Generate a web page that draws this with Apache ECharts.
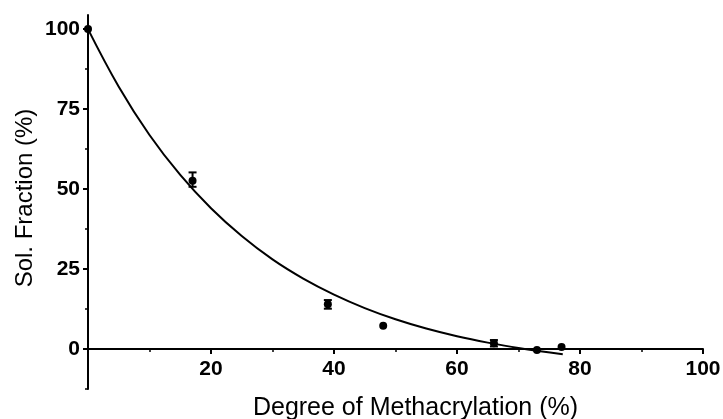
<!DOCTYPE html>
<html>
<head>
  <meta charset="utf-8">
  <title>Sol. Fraction vs Degree of Methacrylation</title>
  <style>
    html, body { margin: 0; padding: 0; background: #fff; }
    #main { width: 723px; height: 419px; }
  </style>
</head>
<body>
  <div id="main"></div>
  <script src="https://cdn.jsdelivr.net/npm/echarts@6.0.0/dist/echarts.min.js"></script>
  <script>
    // measured points (degree of methacrylation %, sol fraction %)
    const pointX = [0, 17, 39, 48, 66, 73, 77];
    const pointY = [100, 52.6, 14.0, 7.3, 1.8, -0.3, 0.6];
    // error bars: x, low, high
    const errX = [17, 39, 66];
    const errLow = [50.7, 12.6, 0.8];
    const errHigh = [55.2, 15.3, 2.8];
    // fitted curve
    const curveX = [0, 5, 10, 15, 20, 25, 30, 35, 40, 45, 50, 55, 60, 65, 70, 77.2];
    const curveY = [100, 82, 66.9, 54.4, 44, 35.3, 28, 22, 17, 12.8, 9.3, 6.4, 4, 2, 0.3, -1.65];
    const yLabels = [0, 25, 50, 75, 100];
    const xLabels = [20, 40, 60, 80, 100];

    const font = '"Liberation Sans", Arial, sans-serif';
    const axisColor = '#000';
    // x axis sits on y = 0, which is 12.5 units (40px) above the grid bottom
    const xOffset = -40;

    const option = {
      animation: false,
      grid: { left: 88, right: 20, top: 15, bottom: 30, outerBoundsMode: 'none', containLabel: false },
      xAxis: [
        {
          type: 'value', min: 0, max: 100, interval: 10, position: 'bottom', offset: xOffset,
          axisLine: { onZero: false, lineStyle: { color: axisColor, width: 2 } },
          axisTick: { length: 5, lineStyle: { color: axisColor, width: 2 }, customValues: [0, 20, 40, 60, 80, 100] },
          axisLabel: { customValues: xLabels, color: '#000', fontFamily: font, fontWeight: 'bold', fontSize: 21, margin: 10 },
          splitLine: { show: false },
          name: 'Degree of Methacrylation (%)', nameLocation: 'middle', nameGap: 47,
          nameTextStyle: { color: '#000', fontFamily: font, fontSize: 25, padding: [0, 0, 0, 40] }
        },
        {
          type: 'value', min: 0, max: 100, interval: 10, position: 'bottom', offset: xOffset,
          axisLine: { show: false, onZero: false },
          axisTick: { length: 3, lineStyle: { color: axisColor, width: 1.5 }, customValues: [10, 30, 50, 70, 90] },
          axisLabel: { show: false },
          splitLine: { show: false }
        }
      ],
      yAxis: [
        {
          type: 'value', min: -12.5, max: 104.4, interval: 12.5, position: 'left',
          axisLine: { onZero: false, lineStyle: { color: axisColor, width: 2 } },
          axisTick: { length: 5, lineStyle: { color: axisColor, width: 2 }, customValues: yLabels },
          axisLabel: { customValues: yLabels, color: '#000', fontFamily: font, fontWeight: 'bold', fontSize: 21, margin: 8 },
          splitLine: { show: false },
          name: 'Sol. Fraction (%)', nameLocation: 'middle', nameGap: 51, nameRotate: 90,
          nameMoveOverlap: false,
          nameTextStyle: { color: '#000', fontFamily: font, fontSize: 24, padding: [0, 0, 0, 8] }
        },
        {
          type: 'value', min: -12.5, max: 104.4, interval: 12.5, position: 'left',
          axisLine: { show: false, onZero: false },
          axisTick: { length: 3, lineStyle: { color: axisColor, width: 1.5 }, customValues: [-12.5, 12.5, 37.5, 62.5, 87.5] },
          axisLabel: { show: false },
          splitLine: { show: false }
        }
      ],
      series: [
        {
          type: 'line',
          data: curveX.map((x, i) => [x, curveY[i]]),
          smooth: 0.4,
          showSymbol: false,
          lineStyle: { color: '#000', width: 2 },
          z: 3
        },
        {
          type: 'custom',
          data: errX.map((x, i) => [x, errLow[i], errHigh[i]]),
          renderItem(params, api) {
            const lo = api.coord([api.value(0), api.value(1)]);
            const hi = api.coord([api.value(0), api.value(2)]);
            const half = 4;
            const style = { stroke: '#000', lineWidth: 2 };
            return {
              type: 'group',
              children: [
                { type: 'line', shape: { x1: lo[0], y1: lo[1], x2: hi[0], y2: hi[1] }, style },
                { type: 'line', shape: { x1: hi[0] - half, y1: hi[1], x2: hi[0] + half, y2: hi[1] }, style },
                { type: 'line', shape: { x1: lo[0] - half, y1: lo[1], x2: lo[0] + half, y2: lo[1] }, style }
              ]
            };
          },
          z: 4
        },
        {
          type: 'scatter',
          data: pointX.map((x, i) => [x, pointY[i]]),
          symbol: 'circle',
          symbolSize: 8,
          itemStyle: { color: '#000', opacity: 1 },
          z: 5
        }
      ]
    };

    const chart = echarts.init(document.getElementById('main'));
    chart.setOption(option);
  </script>
</body>
</html>
